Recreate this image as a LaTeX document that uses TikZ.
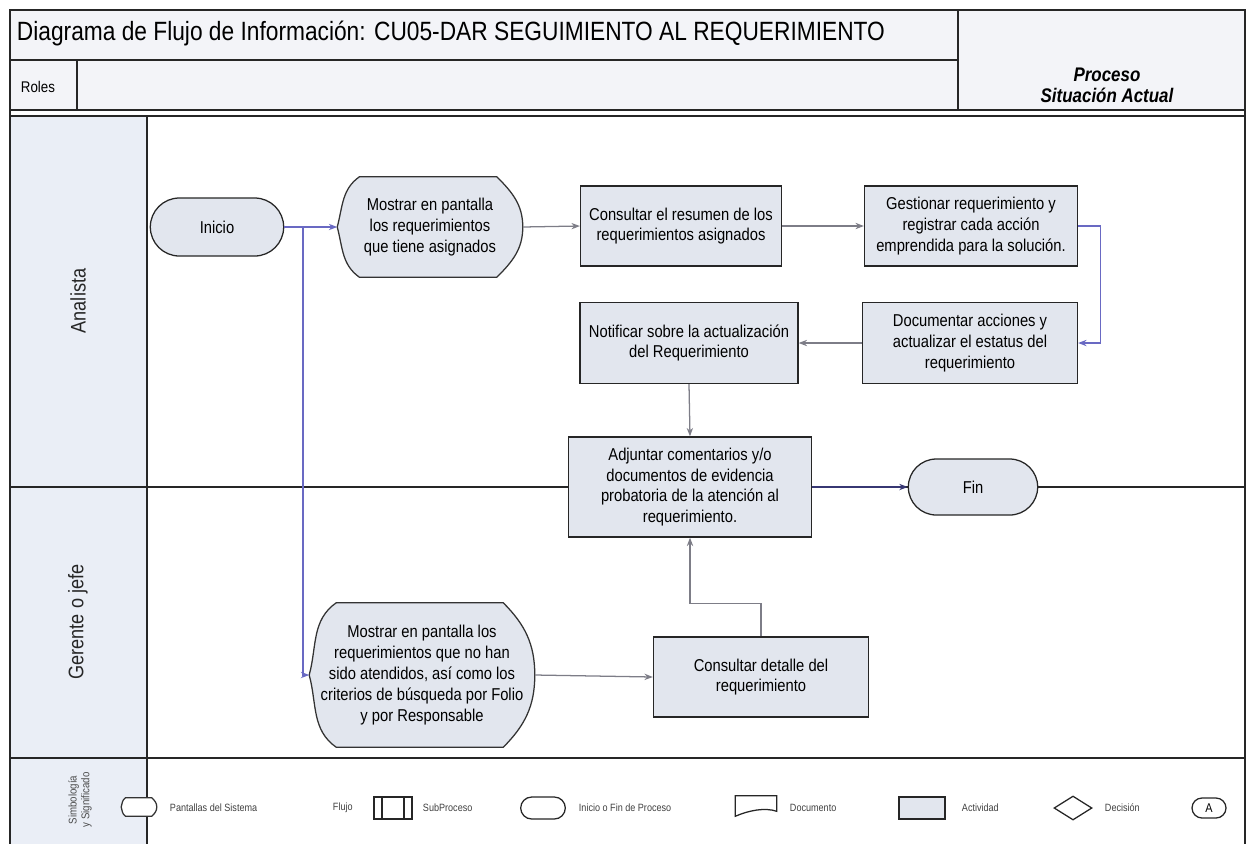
\documentclass[tikz,border=0pt]{standalone}
\usepackage{fontspec}
\setmainfont{Liberation Sans}[FakeStretch=0.86]
\usetikzlibrary{shapes.misc,shapes.geometric,arrows.meta,calc,positioning}

\definecolor{boxfill}{RGB}{226,230,238}
\definecolor{lanefill}{RGB}{234,238,246}
\definecolor{headfill}{RGB}{243,244,248}
\definecolor{flowgray}{RGB}{125,125,135}
\definecolor{flowblue}{RGB}{105,105,195}
\definecolor{flowdark}{RGB}{55,55,115}

\newcommand{\pxu}{0.025cm}

% outline of the "pantalla" (display) symbol around an empty node
\newcommand{\pantshape}[2][boxfill]{%
  \filldraw[draw=black!80, line width=0.9pt, fill=#1]
    ($(#2.north west)!0.12!(#2.north east)$) -- ($(#2.north west)!0.86!(#2.north east)$)
    to[out=-45,in=90] (#2.east) to[out=-90,in=45] ($(#2.south west)!0.86!(#2.south east)$)
    -- ($(#2.south west)!0.12!(#2.south east)$)
    to[out=145,in=-75] (#2.west) to[out=75,in=-145] ($(#2.north west)!0.12!(#2.north east)$) -- cycle;
}

\tikzset{
  wh/.style 2 args={minimum width=#1*\pxu, minimum height=#2*\pxu},
  linea/.style={draw=black!85, line width=0.9pt},
  actividad/.style={rectangle, linea, fill=boxfill, align=center, inner sep=2pt,
    font=\fontsize{12.2}{14.8}\selectfont},
  terminal/.style={rounded rectangle, linea, fill=boxfill, inner sep=2pt,
    font=\fontsize{12.2}{14.8}\selectfont},
  pantbox/.style={rectangle, inner sep=0pt},
  txt/.style={align=center, font=\fontsize{12.2}{14.8}\selectfont},
  rol/.style={rotate=90, font=\fontsize{15}{18}\selectfont, text=black!85},
  legtxt/.style={anchor=west, font=\fontsize{7.5}{9}\selectfont, text=black!75},
  flujo/.style={line width=0.9pt, draw=flowgray, -{Stealth[length=6pt,width=4.5pt]}},
  flujoazul/.style={flujo, draw=flowblue},
  flujodark/.style={flujo, draw=flowdark},
}

\begin{document}
\begin{tikzpicture}[x=0.025cm, y=-0.025cm]
\useasboundingbox (0,0) rectangle (1248,844);

% encabezado
\filldraw[linea, fill=headfill] (10,10) rectangle (958,60);
\filldraw[linea, fill=headfill] (10,60) rectangle (958,110);
\draw[linea] (77,60) -- (77,110);
\filldraw[linea, fill=headfill] (958,10) rectangle (1245,110);
\node[anchor=west, font=\fontsize{18.8}{21}\selectfont] (titulo) at (12,34)
  {Diagrama de Flujo de Información: CU05-DAR SEGUIMIENTO AL REQUERIMIENTO};
\node[font=\fontsize{11}{12}\selectfont] (roles) at (38,87) {Roles};
\node[align=center, font=\fontsize{14}{15}\bfseries\itshape\selectfont] (proceso) at (1107,85)
  {Proceso\\Situación Actual};

% carriles
\fill[lanefill] (10,115) rectangle (147,758);
\fill[lanefill] (10,758) rectangle (147,844);
\draw[linea] (10,487) -- (1245,487);
\draw[linea] (147,115) -- (147,844);
\draw[linea] (10,10) -- (10,844);
\draw[linea] (1245,10) -- (1245,844);
\draw[black!85, line width=2pt] (10,116) -- (1245,116);
\draw[black!85, line width=1.8pt] (10,758) -- (1245,758);
\node[rol] (analista) at (78,301) {Analista};
\node[rol] (gerente) at (78,622) {Gerente o jefe};
\node[rotate=90, align=center, font=\fontsize{8}{9}\selectfont, text=black!70] (simbologia) at (80,800)
  {Simbología\\y Significado};

% nodos Analista
\node[terminal, wh={139}{58}] (inicio) at (217,227) {Inicio};
\node[pantbox, wh={185}{100}] (pant1) at (430,227) {};
\pantshape{pant1}
\node[txt] (pant1t) at (pant1) {Mostrar en pantalla\\los requerimientos\\que tiene asignados};
\node[actividad, wh={201}{80}] (resumen) at (681,226) {Consultar el resumen de los\\requerimientos asignados};
\node[actividad, wh={213}{80}] (gestionar) at (971,226) {Gestionar requerimiento y\\registrar cada acción\\emprendida para la solución.};
\node[actividad, wh={215}{81}] (documentar) at (970,343) {Documentar acciones y\\actualizar el estatus del\\requerimiento};
\node[actividad, wh={218}{81}] (notificar) at (689,343) {Notificar sobre la actualización\\del Requerimiento};
\node[actividad, wh={243}{100}] (adjuntar) at (690,487) {Adjuntar comentarios y/o\\documentos de evidencia\\probatoria de la atención al\\requerimiento.};
\node[terminal, wh={135}{56}] (fin) at (973,487) {Fin};

% nodos Gerente
\node[pantbox, wh={225}{144}] (pant2) at (422,675) {};
\pantshape{pant2}
\node[txt] (pant2t) at (pant2) {Mostrar en pantalla los\\requerimientos que no han\\sido atendidos, así como los\\criterios de búsqueda por Folio\\y por Responsable};
\node[actividad, wh={215}{80}] (detalle) at (761,677) {Consultar detalle del\\requerimiento};

% flujos
\coordinate (rama) at (303,227);
\draw[flujoazul] (inicio.east) -- (pant1.west);
\draw[flujoazul] (rama) |- (pant2.west);
\draw[flujo] (pant1.east) -- (resumen.west);
\draw[flujo] (resumen.east) -- (gestionar.west);
\draw[flujoazul] (gestionar.east) -- ++(22,0) |- (documentar.east);
\draw[flujo] (documentar.west) -- (notificar.east);
\draw[flujo] (notificar.south) -- (adjuntar.north);
\draw[flujodark] (adjuntar.east) -- (fin.west);
\draw[flujo] (pant2.east) -- (detalle.west);
\draw[flujo] (detalle.north) -- ++(0,-33) -| (adjuntar.south);

% simbologia
\node[pantbox, wh={35}{18}] (lpant) at (139,807) {};
\pantshape[white]{lpant}
\node[legtxt] (lpantt) at (165,808) {Pantallas del Sistema};
\node[legtxt] (lflujo) at (328,808) {Flujo};
\node[rectangle, linea, fill=white, wh={38}{22}] (lsub) at (393,808) {};
\draw[linea] ($(lsub.north west)!0.22!(lsub.north east)$) -- ($(lsub.south west)!0.22!(lsub.south east)$);
\draw[linea] ($(lsub.north west)!0.78!(lsub.north east)$) -- ($(lsub.south west)!0.78!(lsub.south east)$);
\node[legtxt] (lsubt) at (418,808) {SubProceso};
\node[rounded rectangle, linea, fill=white, wh={54}{22}] (lterm) at (543,808) {};
\node[legtxt] (ltermt) at (574,808) {Inicio o Fin de Proceso};
\node[pantbox, wh={41}{20}] (ldoc) at (756,806) {};
\filldraw[linea, fill=white] (ldoc.south west) -- (ldoc.north west) -- (ldoc.north east)
  -- ($(ldoc.south east)+(0,-5)$) .. controls +(-12,-4) and +(14,-6) .. (ldoc.south west) -- cycle;
\node[legtxt] (ldoct) at (785,808) {Documento};
\node[rectangle, linea, fill=boxfill, wh={46}{22}] (lact) at (922,808) {};
\node[legtxt] (lactt) at (957,808) {Actividad};
\node[diamond, linea, fill=white, inner sep=0pt, wh={38}{24}] (ldec) at (1073,808) {};
\node[legtxt] (ldect) at (1100,808) {Decisión};
\node[rounded rectangle, linea, fill=white, inner sep=0pt, wh={34}{20},
  font=\fontsize{9}{10}\selectfont] (lcon) at (1209,808) {A};
\end{tikzpicture}
\end{document}
